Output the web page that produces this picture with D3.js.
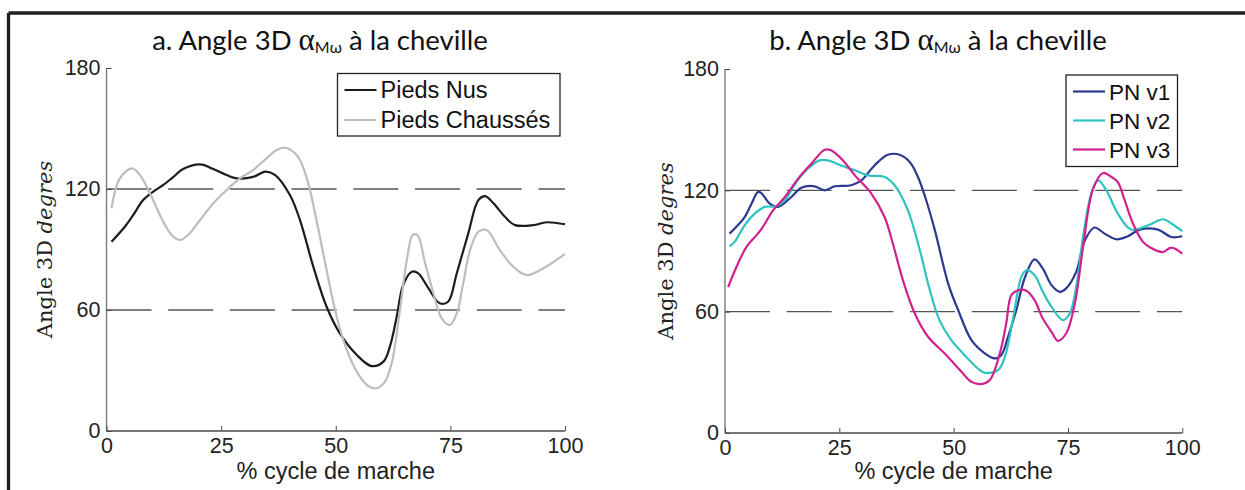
<!DOCTYPE html>
<html><head><meta charset="utf-8">
<script src="https://cdn.jsdelivr.net/npm/d3@7"></script>
<style>html,body{margin:0;padding:0;background:#fff;}svg{display:block;}</style>
</head><body>
<svg id="c" width="1245" height="490"></svg>
<script>
// ---------- data ----------
const xTicks = [0, 25, 50, 75, 100];
const yTicks = [0, 60, 120, 180];
const refLines = [60, 120];
const titles = ["a. Angle 3D ", "b. Angle 3D "];
const xLabel = "% cycle de marche";

const nusX = [1.1,4,5.8,8,10.2,12.4,14.6,16.7,20.4,23.3,26.2,28.4,32,34.6,36.8,40,42.2,45.1,48,50.9,54.6,57.8,60.4,61.8,63.3,64.7,66.6,68,70.2,72.7,74.5,76.4,78.9,81.1,82.6,84.4,86.9,89.1,93.1,96,100];
const nusY = [93.9,101.3,107,114.5,118.7,122,126,129.9,132.2,129.9,126.9,125.3,126,128.6,126.9,117,104.6,81.5,61.6,48.4,37.7,32.2,34.4,41.8,56.7,72.4,79,78.2,70.8,63.3,64.1,78.2,98,114.5,116.5,112.9,106.2,102.1,102.1,103.5,102.5];
const chX = [1.1,2.9,5.5,7.3,9.5,12,14.2,16,17.8,20.4,23.3,26.2,29.1,32,34.9,37.1,38.9,40.7,42.2,44,45.8,48,50.2,52.4,54.6,56.8,58.9,60.7,62.2,64,65.5,66.8,67.8,69.5,71.3,73.1,74.9,76.4,77.8,79.3,81.1,82.9,85.8,88.7,91.6,95.3,100];
const chY = [110.4,125.3,130.2,126.9,117.8,105.5,97.2,94.7,97.2,104.6,112.9,119.5,125.3,129.4,135.2,139.3,140.5,138.5,134.4,122.8,104.6,79.8,56.7,40.2,29.4,22.8,21.2,24.4,33.6,60,84.8,97.2,97.2,83.1,68.3,55.9,52.6,58.4,73.2,89.7,98.8,99.7,89.7,81.5,77.3,80.7,87.8];

const v1X = [1,2.8,4.3,5.8,7.2,7.9,9.8,11.6,14.5,16.7,19.6,21.8,24,27.6,29.8,32.7,35.6,38.2,40.4,42.2,44,45.9,48.8,51,53.9,56.8,59,60.4,61.9,63.7,65.5,67.7,69.5,71.4,73.2,74.6,76.8,78.7,80.8,83,85.6,88.1,90.7,94.7,97.6,100];
const v1Y = [98.6,102.7,106.8,113.4,119.2,118.7,113.4,111.8,116.7,121.3,122,120,122,122.5,124.9,132.3,137.6,137.6,134,126.6,115.1,100.2,73.9,60.7,45.9,39.4,36.9,38.5,47.6,60.7,76.4,85.9,81.3,73.1,69.8,71.5,79.7,95.3,101.6,98.6,95.8,97.3,100.6,100.6,96.9,97.3];
const v2X = [1,2.1,4.3,6.5,8.7,11.2,13.1,15.6,18.1,20.7,22.5,25.4,28.4,31.3,34.9,37.1,40,42.6,44.8,46.9,49.5,52.4,55.3,56.8,59.7,61.2,63,64.8,65.9,67.7,69.5,71.4,73.9,75.4,76.8,78.3,80.1,81.6,83.4,85.9,88.8,92.5,95.8,97.6,100];
const v2Y = [92.3,94.5,102.7,108.5,111.8,112.1,115.1,124.1,130.7,134.8,134.8,132.3,129.9,127.4,126.6,122.5,110.1,90.4,70.6,55.8,45.9,38.5,31.9,29.8,31.1,37.7,56.6,77.2,80.5,78,69.8,62.4,55.8,59.1,72.2,96.9,118.4,124.9,120,108.5,100.6,102.7,105.7,103.6,99.8];
const v3X = [0.7,2.5,4.7,7.2,8.3,10.5,13.1,16,18.9,21.8,23.2,25.8,28.4,32,34.9,36.7,38.9,41.5,44.4,48,51.7,53.9,56,57.9,60.1,61.5,62.6,64.1,65.9,67.7,69.5,71.4,72.8,74.6,76.5,78.3,80.5,82.7,84.5,85.9,87.4,89.2,91.4,92.8,95.8,97.6,100];
const v3Y = [72.2,82.1,92,98.6,101.9,110.1,116.7,125.8,133.2,140.1,139.8,134.8,127.4,118.4,106.8,93.7,75.6,59.1,47.6,39.4,30.3,25.3,24.2,26.2,39.4,54.2,68.1,70.6,70.3,65.7,56.6,50,45.6,49.2,64,92,120.8,128.6,126.6,124.1,115.1,103.6,94.5,92,89.5,91.7,88.7];

const seriesA = [
  {name: "Pieds Nus", color: "#1c1c1c", x: nusX, y: nusY},
  {name: "Pieds Chaussés", color: "#bdbdbd", x: chX, y: chY}
];
const seriesB = [
  {name: "PN v1", color: "#2b3990", x: v1X, y: v1Y},
  {name: "PN v2", color: "#2ec2c0", x: v2X, y: v2Y},
  {name: "PN v3", color: "#d0218f", x: v3X, y: v3Y}
];

// ---------- layout ----------
const svg = d3.select("#c");
const tickFont = "'Liberation Sans', Arial, sans-serif";

// frame
svg.append("line").attr("x1", 8.5).attr("x2", 1245).attr("y1", 13).attr("y2", 13)
  .attr("stroke", "#231f20").attr("stroke-width", 3.3);
svg.append("line").attr("x1", 8.5).attr("x2", 8.5).attr("y1", 13).attr("y2", 490)
  .attr("stroke", "#231f20").attr("stroke-width", 3.3);

const panels = [
  {series: seriesA, title: titles[0], xr: [106.5, 565], yr: [431, 68], titleX: 320, ylabX: 52,
   legend: {x: 337.5, y: 73.5, w: 222.5, h: 62.5, row: 30, lineY0: 90, textY0: 98, fs: 23.5}},
  {series: seriesB, title: titles[1], xr: [725, 1182.3], yr: [433, 69], titleX: 938, ylabX: 673,
   legend: {x: 1066, y: 75, w: 111.5, h: 91.5, row: 29, lineY0: 91.5, textY0: 99.5, fs: 22.5}}
];

panels.forEach(p => {
  const x = d3.scaleLinear().domain([0, 100]).range(p.xr);
  const y = d3.scaleLinear().domain([0, 180]).range(p.yr);
  const g = svg.append("g");

  // reference dashed lines
  g.selectAll(".ref").data(refLines).join("line")
    .attr("x1", x(0)).attr("x2", x(100))
    .attr("y1", d => y(d)).attr("y2", d => y(d))
    .attr("stroke", "#555").attr("stroke-width", 1.3)
    .attr("stroke-dasharray", "45,16.7");

  // axes
  const yAxis = d3.axisLeft(y).tickValues(yTicks).tickSize(-5).tickPadding(10).tickFormat(d3.format("d"));
  const xAxis = d3.axisBottom(x).tickValues(xTicks).tickSize(-5).tickPadding(10).tickFormat(d3.format("d"));
  const ya = g.append("g").attr("transform", `translate(${x(0)},0)`).call(yAxis);
  const xa = g.append("g").attr("transform", `translate(0,${y(0)})`).call(xAxis);
  ya.select(".domain").attr("stroke", "#7a7a7a").attr("stroke-width", 1.4).attr("d", `M0,${y(180)}V${y(0)}`);
  xa.select(".domain").attr("stroke", "#4a4a4a").attr("stroke-width", 1.4).attr("d", `M${x(0)},0H${x(100)}`);
  [ya, xa].forEach(a => {
    a.selectAll(".tick line").attr("stroke", "#4a4a4a").attr("stroke-width", 1);
    a.selectAll("text").attr("font-family", tickFont).attr("font-size", 21.5).attr("fill", "#222");
  });
  ya.selectAll("text").attr("dx", 4);
  xa.selectAll("text").attr("dy", "0.71em").attr("y", 7);

  // series
  const line = d3.line().curve(d3.curveCatmullRom.alpha(0.5));
  p.series.forEach(s => {
    const pts = s.x.map((v, i) => [x(v), y(s.y[i])]);
    g.append("path").attr("d", line(pts)).attr("fill", "none")
      .attr("stroke", s.color).attr("stroke-width", 2.2).attr("stroke-linejoin", "round");
  });

  // title
  const t = svg.append("text").attr("x", p.titleX).attr("y", 50).attr("text-anchor", "middle")
    .attr("font-family", "Lato, 'Open Sans', sans-serif").attr("font-size", 27.5).attr("fill", "#111");
  t.append("tspan").text(p.title);
  t.append("tspan").attr("font-family", "'Liberation Serif', serif").attr("font-size", 31).text("α");
  t.append("tspan").attr("font-size", 16).attr("dy", 3).text("Mω");
  t.append("tspan").attr("dy", -3).text(" à la cheville");

  // x label
  svg.append("text").attr("x", (p.xr[0] + p.xr[1]) / 2).attr("y", 479).attr("text-anchor", "middle")
    .attr("font-family", tickFont).attr("font-size", 23.5).attr("fill", "#222").text(xLabel);

  // y label
  const yl = svg.append("text").attr("transform", `translate(${p.ylabX},${(p.yr[0] + p.yr[1]) / 2}) rotate(-90)`)
    .attr("text-anchor", "middle").attr("font-family", "'DejaVu Serif', serif").attr("font-size", 21).attr("fill", "#222");
  yl.append("tspan").text("Angle 3D ");
  yl.append("tspan").attr("font-style", "italic").text("degres");

  // legend
  const L = p.legend;
  const lg = svg.append("g");
  lg.append("rect").attr("x", L.x).attr("y", L.y).attr("width", L.w).attr("height", L.h)
    .attr("fill", "#fff").attr("stroke", "#222").attr("stroke-width", 1.3);
  p.series.forEach((s, i) => {
    lg.append("line").attr("x1", L.x + 7).attr("x2", L.x + 39).attr("y1", L.lineY0 + i * L.row).attr("y2", L.lineY0 + i * L.row)
      .attr("stroke", s.color).attr("stroke-width", 2.2);
    lg.append("text").attr("x", L.x + 43).attr("y", L.textY0 + i * L.row)
      .attr("font-family", tickFont).attr("font-size", L.fs).attr("fill", "#111").text(s.name);
  });
});
</script>
</body></html>
